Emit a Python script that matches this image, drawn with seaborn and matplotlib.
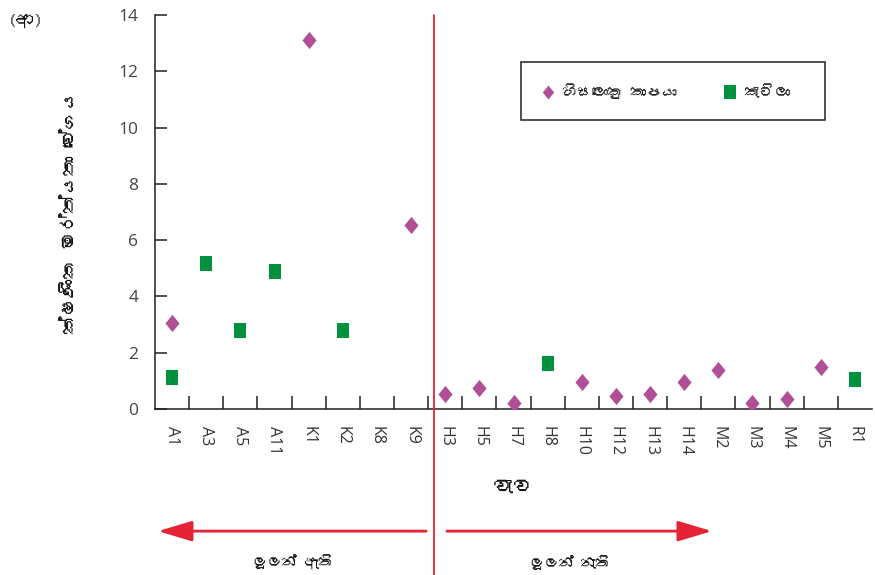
import matplotlib
matplotlib.use("Agg")
import numpy as np
import pandas as pd
import matplotlib.pyplot as plt
import seaborn as sns
from matplotlib import font_manager
from matplotlib.ft2font import FT2Font
from matplotlib.lines import Line2D
from matplotlib.patches import Rectangle, FancyArrowPatch

# ---- data -------------------------------------------------------------
tanks = ["A1", "A3", "A5", "A11", "K1", "K2", "K8", "K9",
         "H3", "H5", "H7", "H8", "H10", "H12", "H13", "H14",
         "M2", "M3", "M4", "M5", "R1"]
bighead = [3.05, None, None, None, 13.1, None, None, 6.55,
           0.55, 0.75, 0.2, None, 0.95, 0.45, 0.55, 0.95,
           1.4, 0.2, 0.35, 1.5, None]
catla = [1.15, 5.2, 2.8, 4.9, None, 2.8, None, None,
         None, None, None, 1.65, None, None, None, None,
         None, None, None, None, 1.05]
yticks = [0, 2, 4, 6, 8, 10, 12, 14]

bighead_label = "හිසලොකු කාපයා"
catla_label = "කැටිලා"
x_title = "වැව"
y_title = "ක්ෂණික මර්ත්යතා වේගය"
with_snakehead = "ලූලන් ඇති"
without_snakehead = "ලූලන් නැති"
panel = "(ආ)"

# ---- fonts ------------------------------------------------------------
def find_sinhala_family():
    for fe in font_manager.fontManager.ttflist:
        try:
            if FT2Font(fe.fname).get_char_index(0x0D9A):
                return fe.name
        except Exception:
            continue
    return None

sin = find_sinhala_family()
sin_fam = ([sin] if sin else []) + ["DejaVu Sans"]
num_fam = ["Open Sans", "DejaVu Sans"]

sns.set_theme(style="ticks")
plt.rcParams["font.family"] = num_fam

INK = "#231f20"
PURPLE = "#b04f98"
GREEN = "#00913f"
RED = "#e52236"

diamond = [(0, 1), (0.82, 0), (0, -1), (-0.82, 0), (0, 1)]
square = [(-0.4, -0.5), (0.4, -0.5), (0.4, 0.5), (-0.4, 0.5), (-0.4, -0.5)]

df = pd.DataFrame({"tank": tanks, "bighead": bighead, "catla": catla})

fig = plt.figure(figsize=(8.75, 5.75), dpi=100)
ax = fig.add_axes([155 / 875, 1 - 409 / 575, 717 / 875, 394 / 575])

sns.stripplot(data=df, x="tank", y="catla", order=tanks, jitter=False,
              marker=square, color=GREEN, size=10.8, linewidth=0, ax=ax)
sns.stripplot(data=df, x="tank", y="bighead", order=tanks, jitter=False,
              marker=diamond, color=PURPLE, size=12.4, linewidth=0, ax=ax)

ax.set_xlim(-0.5, len(tanks) - 0.5)
ax.set_ylim(0, 14)
ax.set_yticks(yticks)
ax.set_xticks(range(len(tanks)))
ax.set_xticklabels(tanks, rotation=270, fontsize=11.5, color="#333333",
                   family=num_fam)
ax.set_xticks(np.arange(0.5, len(tanks) - 1, 1.0), minor=True)
ax.tick_params(axis="x", which="major", length=0, pad=12)
ax.tick_params(axis="x", which="minor", direction="in", length=9.5,
               width=1.1, color=INK)
ax.tick_params(axis="y", direction="in", length=8.4, width=1.1, color=INK,
               pad=12, labelsize=12.5, labelcolor="#444444")
for lab in ax.get_xticklabels():
    lab.set_verticalalignment("top")
    lab.set_horizontalalignment("center")

sns.despine(ax=ax)
for s in ("left", "bottom"):
    ax.spines[s].set_color(INK)
    ax.spines[s].set_linewidth(1.1)

ax.set_xlabel(x_title, fontsize=15, fontweight="bold", family=sin_fam,
              color="#111111")
ax.xaxis.set_label_coords(0.5, -0.175)
ax.set_ylabel(y_title, fontsize=13.5, fontweight="bold", family=sin_fam,
              color="#111111")
ax.yaxis.set_label_coords(-0.107, 0.5)

# divider between tanks with and without snakeheads
divider_x = 7.67
xt = ax.get_xaxis_transform()
ax.plot([divider_x, divider_x], [1.0, -0.43], transform=xt, color=RED,
        lw=1.3, clip_on=False, zorder=5)

arrow_y = -0.31
for start, end in [(7.44, -0.41), (8.05, 15.81)]:
    arr = FancyArrowPatch((start, arrow_y), (end, arrow_y), transform=xt,
                          arrowstyle="-|>,head_length=1.0,head_width=0.3",
                          mutation_scale=21, color=RED, lw=2.0,
                          shrinkA=0, shrinkB=0, clip_on=False)
    ax.add_patch(arr)

ax.text(3.55, -0.39, with_snakehead, transform=xt, ha="center", va="center",
        fontsize=10.5, family=sin_fam, color="#111111")
ax.text(11.65, -0.39, without_snakehead, transform=xt, ha="center",
        va="center", fontsize=10.5, family=sin_fam, color="#111111")

# legend
handles = [
    Line2D([], [], ls="", marker=diamond, markersize=10, color=PURPLE,
           markeredgewidth=0, label=bighead_label),
    Line2D([], [], ls="", marker=square, markersize=10.3, color=GREEN,
           markeredgewidth=0, label=catla_label),
]
leg = ax.legend(handles=handles, loc="center left", ncol=2, frameon=False,
                bbox_to_anchor=(540 / 875, 1 - 91 / 575),
                bbox_transform=fig.transFigure, borderaxespad=0, borderpad=0,
                handlelength=1.0, handletextpad=0.45, columnspacing=3.0,
                prop={"family": sin_fam, "size": 11})
fig.add_artist(Rectangle((521 / 875, 1 - 120 / 575), 304 / 875, 58 / 575,
                         transform=fig.transFigure, fill=False,
                         edgecolor=INK, lw=1.1))

fig.text(8 / 875, 1 - 21 / 575, panel, ha="left", va="center", fontsize=13,
         family=sin_fam, color="#111111")

fig.savefig("out.png", dpi=100)
